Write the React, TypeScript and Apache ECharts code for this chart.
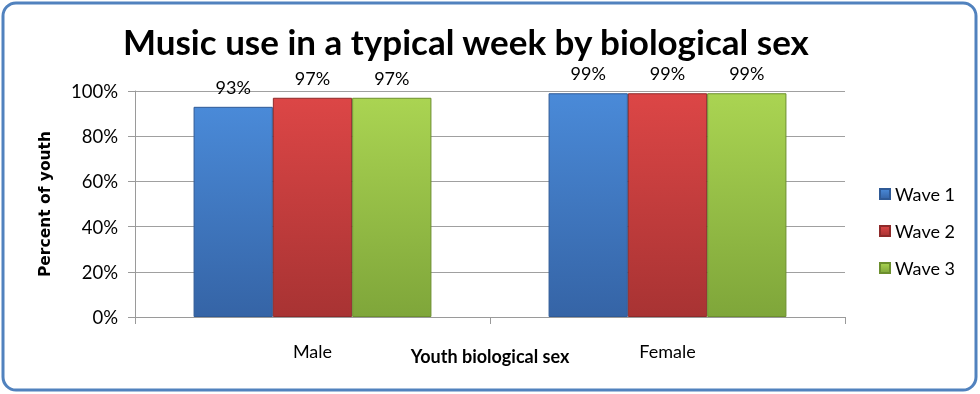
import React, { useEffect, useRef } from "react";
import * as echarts from "echarts";

const categories = ["Male", "Female"];
const seriesNames = ["Wave 1", "Wave 2", "Wave 3"];
const wave1 = [93, 99];
const wave2 = [97, 99];
const wave3 = [97, 99];
const yTicks = [0, 20, 40, 60, 80, 100];

const colors = [
  { top: "#4a8ad8", bottom: "#3564a6", edge: "#2f5a96" },
  { top: "#dc4646", bottom: "#a83333", edge: "#8e2a2a" },
  { top: "#aad452", bottom: "#7fa63a", edge: "#6c8f2e" },
];

const grad = (c: { top: string; bottom: string }) =>
  new echarts.graphic.LinearGradient(0, 0, 0, 1, [
    { offset: 0, color: c.top },
    { offset: 1, color: c.bottom },
  ]);

export default function App() {
  const ref = useRef<HTMLDivElement>(null);
  useEffect(() => {
    if (!ref.current) return;
    const chart = echarts.init(ref.current, null, { renderer: "svg" });
    const datas = [wave1, wave2, wave3];
    chart.setOption({
      animation: false,
      backgroundColor: "transparent",
      graphic: [
        {
          type: "rect",
          shape: { x: 3, y: 3, width: 973, height: 387, r: 13 },
          style: { fill: "#ffffff", stroke: "#5182be", lineWidth: 3 },
          z: -10,
          silent: true,
        },
      ],
      title: {
        text: "Music use in a typical week by biological sex",
        left: 118,
        top: 18,
        textStyle: {
          fontFamily: "Lato",
          fontWeight: "bold",
          fontSize: 35,
          color: "#000000",
        },
      },
      legend: {
        orient: "vertical",
        left: 874,
        top: 180,
        itemWidth: 10,
        itemHeight: 10,
        itemGap: 19,
        icon: "rect",
        data: seriesNames,
        textStyle: { fontFamily: "Lato", fontSize: 18, color: "#000000" },
      },
      grid: { left: 135, right: 135, top: 91, bottom: 77, containLabel: false },
      xAxis: {
        type: "category",
        data: categories,
        name: "Youth biological sex",
        nameLocation: "middle",
        nameGap: 30,
        nameMoveOverlap: false,
        nameTextStyle: {
          fontFamily: "Lato",
          fontWeight: "bold",
          fontSize: 18,
          color: "#000000",
        },
        axisLine: { lineStyle: { color: "#9a9a9a", width: 1 } },
        axisTick: { show: true, length: 7, lineStyle: { color: "#9a9a9a" } },
        axisLabel: {
          fontFamily: "Lato",
          fontSize: 18,
          color: "#000000",
          margin: 25,
        },
      },
      yAxis: {
        type: "value",
        min: 0,
        max: 100,
        interval: 20,
        name: "Percent of youth",
        nameLocation: "middle",
        nameGap: 82,
        nameRotate: 90,
        nameMoveOverlap: false,
        nameTextStyle: {
          fontFamily: "DejaVu Sans",
          fontWeight: "bold",
          fontSize: 15.5,
          color: "#000000",
        },
        axisLine: { show: true, lineStyle: { color: "#9a9a9a", width: 1 } },
        axisTick: { show: true, length: 7, lineStyle: { color: "#9a9a9a" } },
        splitLine: { show: true, lineStyle: { color: "#a0a0a0", width: 1 } },
        axisLabel: {
          fontFamily: "Lato",
          fontSize: 18.5,
          color: "#000000",
          margin: 17,
          formatter: (v: number) => (yTicks.includes(v) ? v + "%" : ""),
        },
      },
      series: datas.map((d, i) => ({
        name: seriesNames[i],
        type: "bar",
        data: d,
        barGap: "0%",
        barCategoryGap: "33%",
        itemStyle: {
          color: grad(colors[i]),
          borderColor: colors[i].edge,
          borderWidth: 1,
        },
        label: {
          show: true,
          position: "top",
          distance: 11,
          fontFamily: "Lato",
          fontSize: 18,
          color: "#000000",
          formatter: (p: any) => p.value + "%",
        },
      })),
      color: colors.map((c) => c.top),
    });
    return () => chart.dispose();
  }, []);
  return (
    <div
      ref={ref}
      style={{ position: "fixed", left: 0, top: 0, width: 980, height: 394 }}
    />
  );
}
